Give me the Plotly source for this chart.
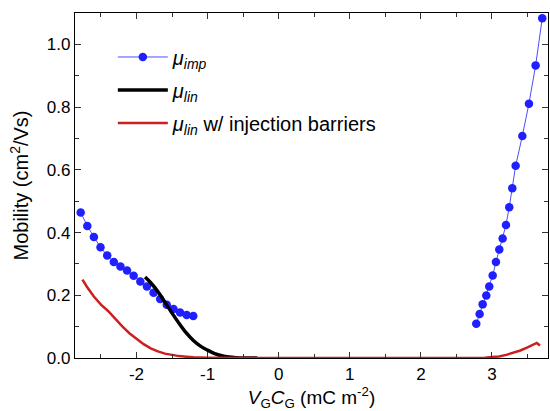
import plotly.graph_objects as go

# mu_imp measured (blue dots)
imp_left_x = [-2.785, -2.692, -2.599, -2.506, -2.412, -2.319, -2.226, -2.133, -2.040, -1.946,
              -1.853, -1.760, -1.667, -1.574, -1.480, -1.387, -1.294, -1.201]
imp_left_y = [0.464, 0.421, 0.386, 0.353, 0.327, 0.306, 0.292, 0.279, 0.262, 0.244,
              0.228, 0.208, 0.188, 0.170, 0.156, 0.145, 0.137, 0.134]
imp_right_x = [2.779, 2.826, 2.869, 2.920, 2.962, 3.010, 3.056, 3.103, 3.150, 3.197,
               3.243, 3.286, 3.333, 3.427, 3.520, 3.614, 3.707]
imp_right_y = [0.109, 0.140, 0.171, 0.199, 0.228, 0.263, 0.306, 0.346, 0.381, 0.424,
               0.481, 0.541, 0.613, 0.708, 0.811, 0.933, 1.083]

# mu_lin (black)
lin_x = [-1.88, -1.80, -1.70, -1.60, -1.50, -1.40, -1.30, -1.20, -1.10, -1.00,
         -0.90, -0.80, -0.70, -0.60, -0.50, -0.30]
lin_y = [0.258, 0.240, 0.212, 0.178, 0.143, 0.110, 0.080, 0.056, 0.038, 0.025,
         0.014, 0.007, 0.003, 0.001, 0.0, 0.0]

# mu_lin with injection barriers (red)
inj_x = [-2.76, -2.70, -2.60, -2.50, -2.40, -2.30, -2.20, -2.10, -2.00, -1.90,
         -1.80, -1.70, -1.60, -1.50, -1.40, -1.30, -1.20, -1.00, -0.50, 0.0,
         1.0, 2.0, 2.6, 2.8, 2.9, 3.0, 3.1, 3.2, 3.3, 3.4, 3.5, 3.6, 3.63, 3.675]
inj_y = [0.250, 0.228, 0.196, 0.170, 0.150, 0.125, 0.101, 0.079, 0.060, 0.044,
         0.031, 0.021, 0.014, 0.009, 0.006, 0.004, 0.002, 0.001, 0.0, 0.0,
         0.0, 0.0, 0.0, 0.0005, 0.001, 0.003, 0.005, 0.010, 0.016, 0.024, 0.034, 0.044, 0.048, 0.040]

x_ticks = [-2, -1, 0, 1, 2, 3]
x_ticktext = ["-2", "-1", "0", "1", "2", "3"]
y_ticks = [0.0, 0.2, 0.4, 0.6, 0.8, 1.0]

FONT = "Liberation Sans, Arial, sans-serif"
blue = "#1f1fff"

fig = go.Figure()
fig.add_trace(go.Scatter(
    x=imp_left_x, y=imp_left_y, mode="lines+markers",
    line=dict(color="#4d4dff", width=1), marker=dict(color=blue, size=8.5),
    name="<i>μ</i><sub><i>imp</i></sub>", legend="legend"))
fig.add_trace(go.Scatter(
    x=imp_right_x, y=imp_right_y, mode="lines+markers",
    line=dict(color="#4d4dff", width=1), marker=dict(color=blue, size=8.5),
    showlegend=False, cliponaxis=False))
fig.add_trace(go.Scatter(
    x=lin_x, y=lin_y, mode="lines", line=dict(color="black", width=3.5, shape="spline"),
    name="<i>μ</i><sub><i>lin</i></sub>", legend="legend2"))
fig.add_trace(go.Scatter(
    x=inj_x, y=inj_y, mode="lines", line=dict(color="#cc1f1f", width=2.5),
    name="<i>μ</i><sub><i>lin</i></sub> w/ injection barriers", legend="legend3"))

axis_common = dict(
    showline=True, linecolor="black", linewidth=1.3, mirror="ticks",
    ticks="inside", ticklen=6, tickwidth=1.2, tickcolor="#333",
    showgrid=False, zeroline=False, automargin=False,
    tickfont=dict(family=FONT, size=17, color="black"),
)

fig.update_xaxes(
    range=[-2.865, 3.788], tickvals=x_ticks, ticktext=x_ticktext,
    minor=dict(ticks="inside", ticklen=4, tickwidth=1.2, tickcolor="#333", dtick=0.5, showgrid=False),
    title=dict(text="<i>V</i><sub>G</sub><i>C</i><sub>G</sub> (mC m<sup>-2</sup>)",
               font=dict(family=FONT, size=19, color="black"), standoff=4),
    **axis_common)
fig.update_yaxes(
    range=[0, 1.1], tickvals=y_ticks, tickformat=".1f",
    minor=dict(ticks="inside", ticklen=4, tickwidth=1.2, tickcolor="#333", dtick=0.1, showgrid=False),
    title=dict(text="Mobility (cm<sup>2</sup>/Vs)",
               font=dict(family=FONT, size=20, color="black"), standoff=12),
    **axis_common)

leg = dict(x=0.08, xanchor="left", yanchor="middle", bgcolor="rgba(0,0,0,0)",
           font=dict(family=FONT, size=20, color="black"), itemwidth=50)

fig.update_layout(
    width=550, height=411,
    margin=dict(l=75, r=2, t=13, b=53),
    paper_bgcolor="white", plot_bgcolor="white",
    font=dict(family=FONT, color="black"),
    legend=dict(leg, y=0.8725),
    legend2=dict(leg, y=0.7768),
    legend3=dict(leg, y=0.6812),
)

fig.write_html("out.html", config={"displayModeBar": False},
               post_script="document.body.style.margin='0px';")
